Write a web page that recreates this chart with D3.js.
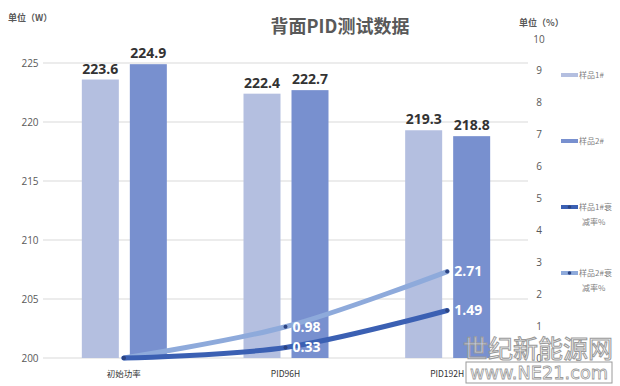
<!DOCTYPE html>
<html>
<head>
<meta charset="utf-8">
<script src="https://cdn.jsdelivr.net/npm/d3@7"></script>
<style>
    body { margin: 0; background: #fff; }
    svg { display: block; font-family: "Open Sans", "Noto Sans CJK SC", sans-serif; }
</style>
</head>
<body>
<div id="chart"></div>
<script>
    var categories = ["初始功率", "PID96H", "PID192H"];
    var sample1Power = [223.6, 222.4, 219.3];
    var sample2Power = [224.9, 222.7, 218.8];
    var sample1Decay = [0, 0.33, 1.49];
    var sample2Decay = [0, 0.98, 2.71];
    var leftTicks = [200, 205, 210, 215, 220, 225];
    var rightTicks = [0, 1, 2, 3, 4, 5, 6, 7, 8, 9, 10];

    var w = 620,
        h = 386;

    var c1 = "#b4bfe0", c2 = "#7890cf", l1 = "#3b60b3", l2 = "#8eaadb";

    var svg = d3.select("#chart").append("svg")
        .attr("width", w)
        .attr("height", h);

    var x = d3.scaleBand().domain(categories).range([43, 528]);
    var y = d3.scaleLinear().domain([200, 225]).range([358, 63]);
    var y2 = d3.scaleLinear().domain([0, 10]).range([358, 39]);

    // gridlines
    svg.append("g").selectAll("line")
        .data(leftTicks)
        .enter().append("line")
        .attr("x1", 43).attr("x2", 528)
        .attr("y1", function (d) { return y(d); })
        .attr("y2", function (d) { return y(d); })
        .attr("stroke", "#d9d9d9")
        .attr("stroke-width", 1);

    // left tick labels
    svg.append("g").selectAll("text")
        .data(leftTicks)
        .enter().append("text")
        .attr("x", 30)
        .attr("y", function (d) { return y(d); })
        .attr("dy", "0.35em")
        .attr("text-anchor", "middle")
        .attr("font-size", 10)
        .attr("fill", "#595959")
        .text(function (d) { return d; });

    // right tick labels
    svg.append("g").selectAll("text")
        .data(rightTicks)
        .enter().append("text")
        .attr("x", 539)
        .attr("y", function (d) { return y2(d); })
        .attr("dy", "0.35em")
        .attr("text-anchor", "middle")
        .attr("font-size", 10)
        .attr("fill", "#595959")
        .text(function (d) { return d; });

    // category labels
    svg.append("g").selectAll("text")
        .data(categories)
        .enter().append("text")
        .attr("x", function (d) { return x(d) + x.bandwidth() / 2; })
        .attr("y", 377)
        .attr("text-anchor", "middle")
        .attr("font-size", 8.5)
        .attr("font-family", "Noto Sans CJK SC")
        .attr("fill", "#333")
        .text(function (d) { return d; });

    // bars
    var barW = 37;
    var series = [
        { values: sample1Power, color: c1, off: -42 },
        { values: sample2Power, color: c2, off: 6 }
    ];
    series.forEach(function (s) {
        var g = svg.append("g");
        g.selectAll("rect")
            .data(s.values)
            .enter().append("rect")
            .attr("x", function (d, i) { return x(categories[i]) + x.bandwidth() / 2 + s.off; })
            .attr("y", function (d) { return y(d); })
            .attr("width", barW)
            .attr("height", function (d) { return y(200) - y(d); })
            .attr("fill", s.color);
        g.selectAll("text")
            .data(s.values)
            .enter().append("text")
            .attr("x", function (d, i) { return x(categories[i]) + x.bandwidth() / 2 + s.off + barW / 2; })
            .attr("y", function (d) { return y(d) - 6; })
            .attr("text-anchor", "middle")
            .attr("font-size", 14)
            .attr("font-weight", "bold")
            .attr("fill", "#333")
            .text(function (d) { return d.toFixed(1); });
    });

    // decay lines (Excel-style smoothing)
    var line = d3.line()
        .curve(d3.curveCatmullRom.alpha(0))
        .x(function (d, i) { return x(categories[i]) + x.bandwidth() / 2; })
        .y(function (d) { return y2(d); });

    var lines = [
        { values: sample2Decay, color: l2 },
        { values: sample1Decay, color: l1 }
    ];
    lines.forEach(function (s) {
        svg.append("path")
            .attr("d", line(s.values))
            .attr("fill", "none")
            .attr("stroke", s.color)
            .attr("stroke-width", 5)
            .attr("stroke-linecap", "round");
    });
    lines.forEach(function (s) {
        var g = svg.append("g");
        g.selectAll("circle")
            .data(s.values)
            .enter().append("circle")
            .attr("cx", function (d, i) { return x(categories[i]) + x.bandwidth() / 2; })
            .attr("cy", function (d) { return y2(d); })
            .attr("r", 2)
            .attr("fill", "#2c4482");
        g.selectAll("text")
            .data(s.values.filter(function (d) { return d > 0; }))
            .enter().append("text")
            .attr("x", function (d, i) { return x(categories[i + 1]) + x.bandwidth() / 2 + 7; })
            .attr("y", function (d) { return y2(d); })
            .attr("dy", "0.35em")
            .attr("font-size", 14)
            .attr("font-weight", "bold")
            .attr("fill", "#fff")
            .text(function (d) { return d.toFixed(2); });
    });

    // title and units
    svg.append("text")
        .attr("x", 340).attr("y", 33)
        .attr("text-anchor", "middle")
        .attr("font-size", 18)
        .attr("font-weight", "bold")
        .attr("font-family", "Noto Sans CJK SC")
        .attr("fill", "#595959")
        .text("背面PID测试数据");

    svg.append("text")
        .attr("x", 8).attr("y", 21)
        .attr("font-size", 9)
        .attr("font-weight", "bold")
        .attr("font-family", "Noto Sans CJK SC")
        .attr("fill", "#595959")
        .text("单位（W）");

    svg.append("text")
        .attr("x", 519).attr("y", 26)
        .attr("font-size", 9)
        .attr("font-weight", "bold")
        .attr("font-family", "Noto Sans CJK SC")
        .attr("fill", "#595959")
        .text("单位（%）");

    // legend
    var legend = [
        { name: ["样品1#"], color: c1, y: 75, dot: false },
        { name: ["样品2#"], color: c2, y: 141, dot: false },
        { name: ["样品1#衰", "减率%"], color: l1, y: 207, dot: true },
        { name: ["样品2#衰", "减率%"], color: l2, y: 273, dot: true }
    ];
    legend.forEach(function (d) {
        svg.append("line")
            .attr("x1", 561).attr("x2", 578)
            .attr("y1", d.y).attr("y2", d.y)
            .attr("stroke", d.color)
            .attr("stroke-width", 4);
        if (d.dot) {
            svg.append("circle").attr("cx", 569.5).attr("cy", d.y).attr("r", 1.8).attr("fill", "#2c4482");
        }
        d.name.forEach(function (t, i) {
            svg.append("text")
                .attr("x", i === 0 ? 579 : 582)
                .attr("y", d.y + i * 15)
                .attr("dy", "0.35em")
                .attr("font-size", 8)
                .attr("font-family", "Noto Sans CJK SC")
                .attr("fill", "#7f7f7f")
                .text(t);
        });
    });

    // watermark
    svg.append("text")
        .attr("x", 538).attr("y", 358)
        .attr("text-anchor", "middle")
        .attr("font-size", 25)
        .attr("font-family", "Noto Sans CJK SC")
        .attr("fill", "rgba(255,255,255,0.6)")
        .attr("stroke", "#9a9a9a")
        .attr("stroke-width", 1)
        .text("世纪新能源网");
    svg.append("rect")
        .attr("x", 466).attr("y", 362)
        .attr("width", 146).attr("height", 21)
        .attr("fill", "none")
        .attr("stroke", "#9a9a9a")
        .attr("stroke-width", 1);
    svg.append("text")
        .attr("x", 539).attr("y", 379)
        .attr("text-anchor", "middle")
        .attr("font-size", 18)
        .attr("textLength", 138)
        .attr("lengthAdjust", "spacingAndGlyphs")
        .attr("font-family", "DejaVu Sans")
        .attr("fill", "#fff")
        .attr("stroke", "#9a9a9a")
        .attr("stroke-width", 0.8)
        .text("www.NE21.com");
</script>
</body>
</html>
